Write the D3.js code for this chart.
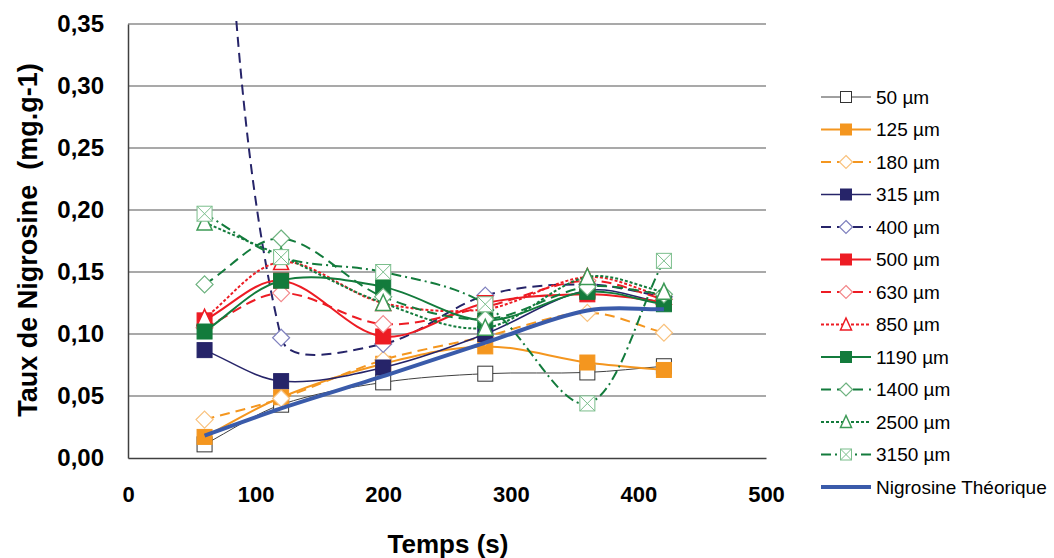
<!DOCTYPE html>
<html><head><meta charset="utf-8">
<script src="https://cdn.jsdelivr.net/npm/d3@7/dist/d3.min.js"></script>
<style>body{margin:0;background:#fff;}svg{display:block;font-family:"Liberation Sans",Arial,sans-serif;}</style>
</head><body>
<svg id="c" width="1054" height="558"></svg>
<script>
const times = [60, 120, 200, 280, 360, 420];
const xTicks = [0, 100, 200, 300, 400, 500];
const yTicks = [0, 0.05, 0.10, 0.15, 0.20, 0.25, 0.30, 0.35];
const seriesNames = ["50 µm","125 µm","180 µm","315 µm","400 µm","500 µm","630 µm","850 µm","1190 µm","1400 µm","2500 µm","3150 µm","Nigrosine Théorique"];
const v50   = [0.011, 0.043, 0.061, 0.068, 0.069, 0.074];
const v125  = [0.017, 0.049, 0.076, 0.090, 0.077, 0.071];
const v180  = [0.031, 0.048, 0.079, 0.098, 0.117, 0.101];
const v315  = [0.087, 0.062, 0.073, 0.100, 0.135, 0.125];
const v400  = [0.70, 0.097, 0.092, 0.131, 0.140, 0.130];
const v500  = [0.111, 0.143, 0.098, 0.125, 0.132, 0.126];
const v630  = [0.105, 0.133, 0.108, 0.122, 0.143, 0.128];
const v850  = [0.113, 0.158, 0.125, 0.120, 0.146, 0.130];
const v1190 = [0.102, 0.143, 0.138, 0.111, 0.134, 0.124];
const v1400 = [0.140, 0.177, 0.130, 0.112, 0.138, 0.132];
const v2500 = [0.190, 0.163, 0.125, 0.105, 0.146, 0.134];
const v3150 = [0.197, 0.162, 0.150, 0.124, 0.044, 0.159];
const vTheo = [0.018, 0.040, 0.066, 0.093, 0.119, 0.120];

const styles = [
  {vals:v50,  color:"#404040", w:1,   dash:null,       marker:"square", fill:"#fff", mstroke:"#333"},
  {vals:v125, color:"#F4961F", w:2,   dash:null,       marker:"square", fill:"#F4961F", mstroke:"#F4961F"},
  {vals:v180, color:"#F4961F", w:2,   dash:"10,6",     marker:"diamond", fill:"#fff", mstroke:"#F9C27E"},
  {vals:v315, color:"#262469", w:1.5, dash:null,       marker:"square", fill:"#262469", mstroke:"#262469"},
  {vals:v400, color:"#262469", w:2,   dash:"10,6",     marker:"diamond", fill:"#fff", mstroke:"#7F80BE"},
  {vals:v500, color:"#ED1C24", w:2,   dash:null,       marker:"square", fill:"#ED1C24", mstroke:"#ED1C24"},
  {vals:v630, color:"#ED1C24", w:2,   dash:"10,6",     marker:"diamond", fill:"#fff", mstroke:"#F3878A"},
  {vals:v850, color:"#ED1C24", w:2,   dash:"3,2",      marker:"triangle", fill:"#fff", mstroke:"#ED1C24"},
  {vals:v1190,color:"#137B3C", w:2,   dash:null,       marker:"square", fill:"#137B3C", mstroke:"#137B3C"},
  {vals:v1400,color:"#137B3C", w:2,   dash:"10,6",     marker:"diamond", fill:"#fff", mstroke:"#6DB27F"},
  {vals:v2500,color:"#137B3C", w:2,   dash:"3,2",      marker:"triangle", fill:"#fff", mstroke:"#3C9A56"},
  {vals:v3150,color:"#137B3C", w:2,   dash:"10,4,2,4", marker:"cross", fill:"#fff", mstroke:"#7BBE8C"},
  {vals:vTheo,color:"#3A5BAA", w:4,   dash:null,       marker:null}
];

// Excel-like smoothed curve: Bezier control points proportional to adjacent chord lengths
function ExcelCurve(context) { this._context = context; }
ExcelCurve.prototype = {
  areaStart() {}, areaEnd() {},
  lineStart() { this._pts = []; },
  point(x, y) { this._pts.push([+x, +y]); },
  lineEnd() {
    const p = this._pts, n = p.length, ctx = this._context;
    if (!n) return;
    ctx.moveTo(p[0][0], p[0][1]);
    const dist = (u, v) => Math.hypot(u[0] - v[0], u[1] - v[1]);
    for (let i = 0; i < n - 1; i++) {
      const a = p[i - 1] || p[i], b = p[i], c = p[i + 1], d = p[i + 2] || p[i + 1];
      const dab = dist(a, b), dbc = dist(b, c), dcd = dist(c, d);
      const f1 = dbc / (dab + dbc) / 3, f2 = dbc / (dbc + dcd) / 3;
      const c1 = [b[0] + (c[0] - a[0]) * f1, b[1] + (c[1] - a[1]) * f1];
      const c2 = [c[0] - (d[0] - b[0]) * f2, c[1] - (d[1] - b[1]) * f2];
      ctx.bezierCurveTo(c1[0], c1[1], c2[0], c2[1], c[0], c[1]);
    }
  }
};
const curveExcel = ctx => new ExcelCurve(ctx);

const svg = d3.select("#c");
const L = 128, R = 766, T = 24, B = 458;
const x = d3.scaleLinear().domain([0, 500]).range([L, R]);
const y = d3.scaleLinear().domain([0, 0.35]).range([B, T]);

// gridlines
svg.append("g").selectAll("line").data(yTicks.filter(d => d > 0)).join("line")
  .attr("x1", L).attr("x2", R).attr("y1", d => y(d)).attr("y2", d => y(d))
  .attr("stroke", "#8c8c8c").attr("stroke-width", 1.3);

// axes
const xAxis = d3.axisBottom(x).tickValues(xTicks).tickSize(0).tickPadding(28).tickFormat(d3.format("d"));
const gx = svg.append("g").attr("transform", `translate(0,${B})`).call(xAxis);
gx.select(".domain").attr("stroke", "#404040").attr("stroke-width", 1.5);
gx.selectAll("text").attr("font-size", 22).attr("font-weight", "bold").attr("fill", "#000")
  .attr("font-family", "Liberation Sans, Arial, sans-serif");

const yAxis = d3.axisLeft(y).tickValues(yTicks).tickSize(0).tickPadding(24)
  .tickFormat(d => d3.format(".2f")(d).replace(".", ","));
const gy = svg.append("g").attr("transform", `translate(${L},0)`).call(yAxis);
gy.select(".domain").attr("stroke", "#404040").attr("stroke-width", 1.5);
gy.selectAll("text").attr("font-size", 24).attr("font-weight", "bold").attr("fill", "#000")
  .attr("font-family", "Liberation Sans, Arial, sans-serif");

// axis titles
svg.append("text").attr("x", 448).attr("y", 553).attr("text-anchor", "middle")
  .attr("font-size", 26).attr("font-weight", "bold").text("Temps (s)");
svg.append("text").attr("transform", "translate(37,240) rotate(-90)").attr("text-anchor", "middle")
  .attr("font-size", 27).attr("font-weight", "bold").attr("xml:space", "preserve")
  .text("Taux de Nigrosine  (mg.g-1)");

// clip
svg.append("clipPath").attr("id", "clip").append("rect")
  .attr("x", L).attr("y", T - 6).attr("width", R - L).attr("height", B - T + 6);

function drawMarker(g, type, cx, cy, s, st) {
  const h = s / 2;
  if (type === "square") {
    g.append("rect").attr("x", cx - h).attr("y", cy - h).attr("width", s).attr("height", s)
      .attr("fill", st.fill).attr("stroke", st.mstroke).attr("stroke-width", 1);
  } else if (type === "diamond") {
    g.append("path").attr("d", `M${cx},${cy - h - 1}L${cx + h + 1},${cy}L${cx},${cy + h + 1}L${cx - h - 1},${cy}Z`)
      .attr("fill", st.fill).attr("stroke", st.mstroke).attr("stroke-width", 1.2);
  } else if (type === "triangle") {
    g.append("path").attr("d", `M${cx},${cy - h - 1}L${cx + h},${cy + h}L${cx - h},${cy + h}Z`)
      .attr("fill", st.fill).attr("stroke", st.mstroke).attr("stroke-width", 1.5);
  } else if (type === "cross") {
    g.append("rect").attr("x", cx - h).attr("y", cy - h).attr("width", s).attr("height", s)
      .attr("fill", st.fill).attr("stroke", st.mstroke).attr("stroke-width", 1);
    g.append("path").attr("d", `M${cx - h},${cy - h}L${cx + h},${cy + h}M${cx + h},${cy - h}L${cx - h},${cy + h}`)
      .attr("stroke", st.mstroke).attr("stroke-width", 1);
  }
}

const line = d3.line().x(d => x(d[0])).y(d => y(d[1])).curve(curveExcel);
const plot = svg.append("g").attr("clip-path", "url(#clip)");
styles.forEach(st => {
  const g = plot.append("g");
  const pts = times.map((t, i) => [t, st.vals[i]]);
  g.append("path").attr("d", line(pts)).attr("fill", "none")
    .attr("stroke", st.color).attr("stroke-width", st.w)
    .attr("stroke-dasharray", st.dash);
  if (st.marker) pts.forEach(p => drawMarker(g, st.marker, x(p[0]), y(p[1]), 15, st));
});

// legend
const lg = svg.append("g");
seriesNames.forEach((name, i) => {
  const st = styles[i];
  const cy = 97 + i * 32.5;
  const g = lg.append("g");
  g.append("line").attr("x1", 821).attr("x2", 871).attr("y1", cy).attr("y2", cy)
    .attr("stroke", st.color).attr("stroke-width", st.w)
    .attr("stroke-dasharray", st.dash);
  if (st.marker) drawMarker(g, st.marker, 846, cy, 11, st);
  g.append("text").attr("x", 876).attr("y", cy + 6.5).attr("font-size", 19).attr("fill", "#000").text(name);
});
</script>
</body></html>
